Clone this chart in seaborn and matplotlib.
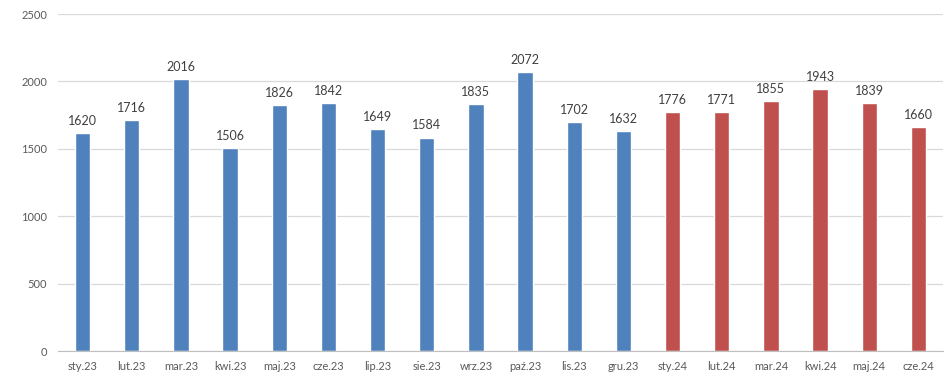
import pandas as pd
import numpy as np
import matplotlib
matplotlib.use("Agg")
import matplotlib.pyplot as plt
import seaborn as sns

# dane
months = ["sty.23", "lut.23", "mar.23", "kwi.23", "maj.23", "cze.23",
          "lip.23", "sie.23", "wrz.23", "paź.23", "lis.23", "gru.23",
          "sty.24", "lut.24", "mar.24", "kwi.24", "maj.24", "cze.24"]
values = [1620, 1716, 2016, 1506, 1826, 1842, 1649, 1584, 1835, 2072, 1702, 1632,
          1776, 1771, 1855, 1943, 1839, 1660]
years = ["2023"] * 12 + ["2024"] * 6
colors = {"2023": "#4F81BD", "2024": "#C0504D"}

df = pd.DataFrame({"month": months, "value": values, "year": years})

sns.set_style("white")
plt.rcParams["font.family"] = ["Lato", "DejaVu Sans"]

fig = plt.figure(figsize=(9.48, 3.9), dpi=100)
ax = fig.add_axes([0.0612, 0.1, 0.9335, 0.864])

sns.barplot(data=df, x="month", y="value", hue="year", palette=colors,
            dodge=False, width=0.31, legend=False, ax=ax, saturation=1)

for i, v in enumerate(values):
    ax.text(i, v + 45, str(v), ha="center", va="bottom", fontsize=9, color="#404040")

ax.set_ylim(0, 2500)
ax.set_xlim(-0.5, len(months) - 0.5)
ax.set_yticks(range(0, 2501, 500))
ax.yaxis.grid(True, color="#D9D9D9", linewidth=0.9)
ax.set_axisbelow(True)
ax.set_xlabel("")
ax.set_ylabel("")

for s in ["top", "right", "left"]:
    ax.spines[s].set_visible(False)
ax.spines["bottom"].set_color("#BFBFBF")

ax.tick_params(axis="y", length=0, labelsize=8, labelcolor="#595959", pad=8)
ax.tick_params(axis="x", which="major", length=0, labelsize=8, labelcolor="#595959", pad=7)
ax.set_xticks(np.arange(-0.5, len(months), 1), minor=True)
ax.tick_params(axis="x", which="minor", length=4, color="#BFBFBF", direction="out")

fig.savefig("out.png", dpi=100)
